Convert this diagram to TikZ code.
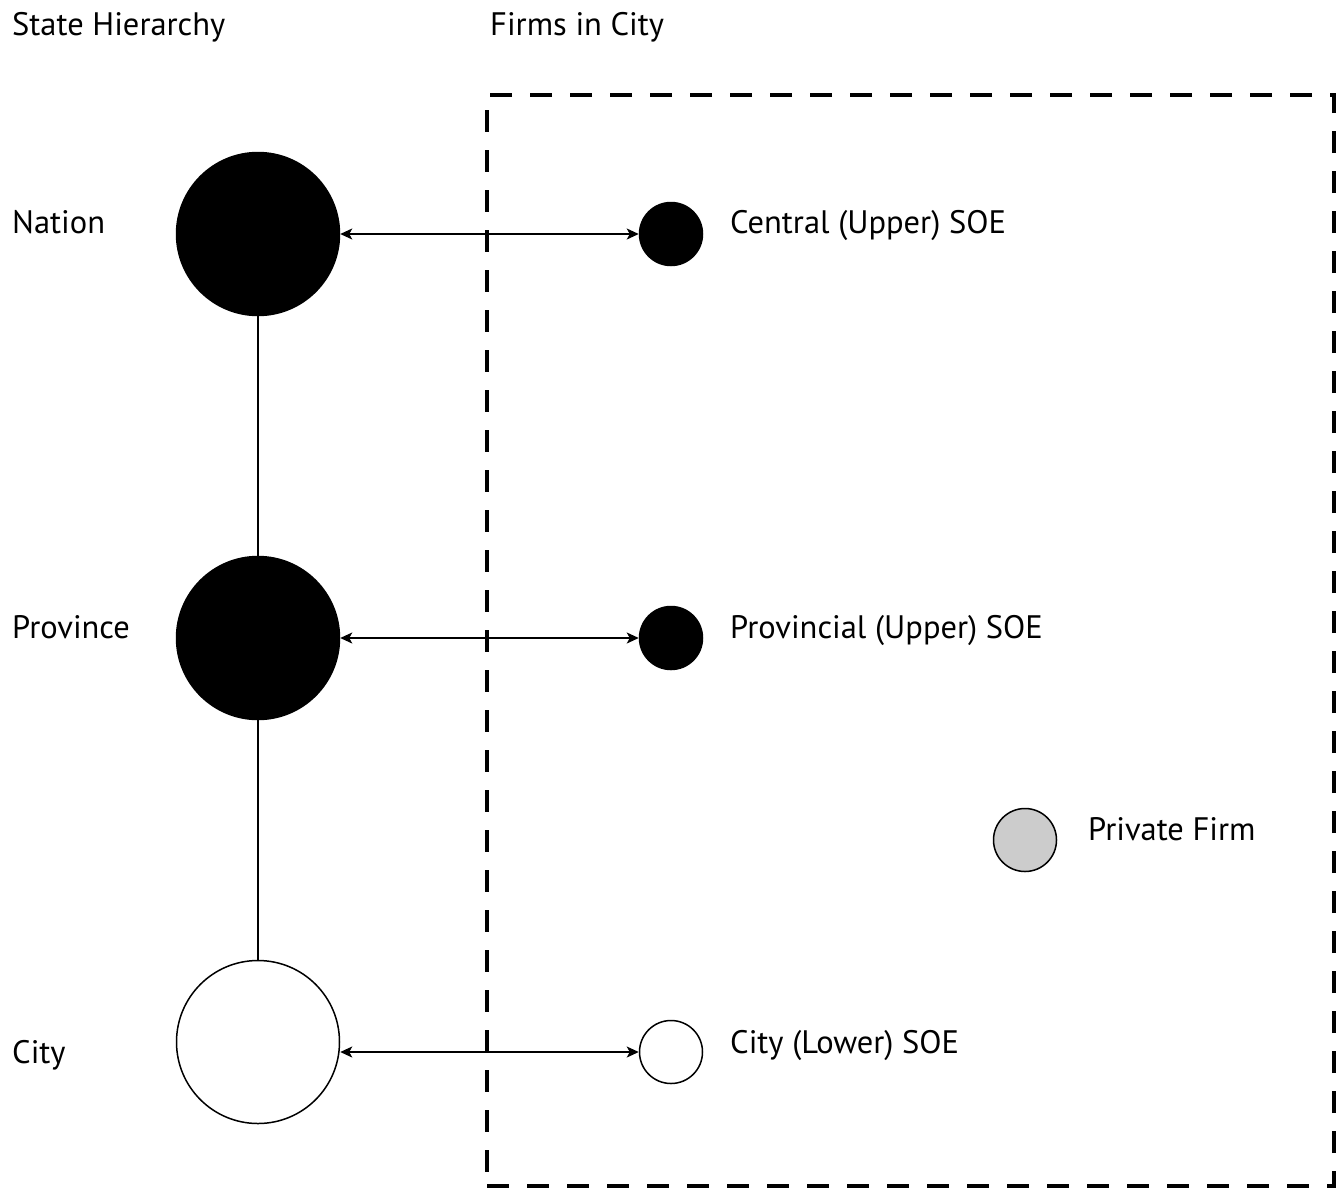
\documentclass[tikz,border=0pt]{standalone}
\usepackage{fontspec}
\setmainfont{PT Sans}
\usetikzlibrary{arrows.meta}
\begin{document}
\begin{tikzpicture}[x=1pt,y=-1pt,
  lbl/.style={anchor=base west,inner sep=0pt,font=\fontsize{32.5}{37}\selectfont},
  bigc/.style={circle,draw,line width=1.5pt,minimum size=163pt,inner sep=0pt},
  smallc/.style={circle,draw,line width=1.5pt,minimum size=63pt,inner sep=0pt},
  link/.style={line width=1.5pt,{Stealth[length=12pt,width=11pt,inset=3pt]}-{Stealth[length=12pt,width=11pt,inset=3pt]}},
  vline/.style={line width=1.5pt}]
\useasboundingbox (0,0) rectangle (1343,1192);
% frame
\node[draw,line width=4pt,dash pattern=on 22pt off 18pt,minimum width=847pt,minimum height=1091pt,inner sep=0pt,outer sep=0pt,anchor=north west] (box) at (487,95) {};
% titles
\node[lbl] (t1) at (12,35) {State Hierarchy};
\node[lbl] (t2) at (490,35) {Firms in City};
% hierarchy
\node[bigc,fill=black] (nation) at (258,234) {};
\node[bigc,fill=black] (province) at (258,638) {};
\node[bigc,fill=white] (city) at (258,1042) {};
\draw[vline] (nation) -- (province);
\draw[vline] (province) -- (city);
\node[lbl] (ln) at (12,233) {Nation};
\node[lbl] (lp) at (12,638) {Province};
\node[lbl] (lc) at (12,1063) {City};
% firms
\node[smallc,fill=black] (central) at (671,234) {};
\node[smallc,fill=black] (provsoe) at (671,638) {};
\node[smallc,fill=white] (citysoe) at (671,1052) {};
\node[smallc,fill={rgb,255:red,204;green,204;blue,204}] (private) at (1025,840) {};
\node[lbl] (lcentral) at (730,233) {Central (Upper) SOE};
\node[lbl] (lprov) at (730,638) {Provincial (Upper) SOE};
\node[lbl] (lcity) at (730,1053) {City (Lower) SOE};
\node[lbl] (lpriv) at (1088,840) {Private Firm};
% links
\draw[link] (nation) -- (central);
\draw[link] (province.east) -- (provsoe.west);
\draw[link] (city.east |- citysoe) -- (citysoe.west);
\end{tikzpicture}
\end{document}
